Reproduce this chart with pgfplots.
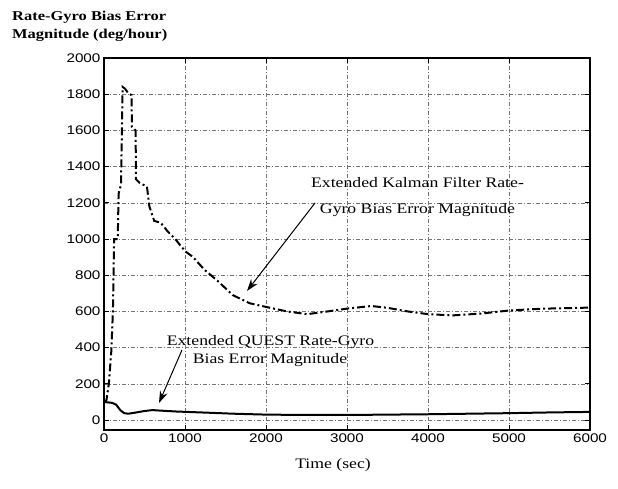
\documentclass[border=0pt]{standalone}
\usepackage{fontspec}
\setmainfont{Liberation Serif}[FakeStretch=1.22]
\newfontfamily\tickfont{Liberation Sans}[FakeStretch=1.22]
\usepackage{pgfplots}
\pgfplotsset{compat=1.18}
\usetikzlibrary{arrows.meta}

\pgfplotstableread{
t v
0 100
30 110
60 200
90 380
110 600
125 1000
170 1000
180 1250
210 1300
230 1840
260 1830
300 1805
340 1795
345 1620
390 1600
395 1330
440 1310
530 1290
560 1180
620 1100
700 1090
790 1040
880 1000
950 960
1010 930
1100 900
1240 830
1400 770
1590 690
1800 645
2030 622
2260 600
2510 585
2760 600
3010 616
3300 630
3500 620
3750 600
4000 585
4300 578
4650 588
5000 605
5400 615
5900 620
6000 622
}\ekf

\pgfplotstableread{
t v
0 100
100 95
150 85
200 55
250 38
300 35
400 42
500 50
600 55
700 52
900 47
1200 42
1600 35
2000 30
2500 28
3000 28
3500 30
4000 32
4500 35
5000 38
5500 42
6000 45
}\quest

\begin{document}
\begin{tikzpicture}[x=1pt,y=1pt]
\path[use as bounding box] (0pt,0pt) rectangle (618pt,488pt);
\begin{axis}[
  at={(104pt,58pt)}, anchor=south west,
  scale only axis, width=486pt, height=372pt,
  xmin=0, xmax=6000, ymin=-55, ymax=2000,
  xtick={0,1000,...,6000}, ytick={0,200,...,2000},
  /pgf/number format/assume math mode=true,
  /pgf/number format/set thousands separator={},
  ticklabel style={font=\tickfont\fontsize{12.5}{14}\selectfont, black},
  tick align=inside, major tick length=5pt,
  tick style={black, line width=0.8pt},
  xtick pos=both, ytick pos=both,
  xmajorgrids, ymajorgrids,
  major grid style={black!55, line width=0.6pt, dash pattern=on 4pt off 2pt on 1pt off 2pt},
  axis line style={black, line width=1.4pt},
  clip=false,
]
\addplot[black, line width=2pt, dash pattern=on 8pt off 3pt on 2pt off 3pt] table[x=t,y=v] {\ekf};
\addplot[black, line width=2pt] table[x=t,y=v] {\quest};
\end{axis}
% title (y label)
\node[anchor=base west, inner sep=0pt, font=\fontsize{13.5}{16}\selectfont\bfseries] at (12pt,467pt) {Rate-Gyro Bias Error};
\node[anchor=base west, inner sep=0pt, font=\fontsize{13.5}{16}\selectfont\bfseries] at (12pt,449pt) {Magnitude (deg/hour)};
% x label
\node[anchor=base, inner sep=0pt, font=\fontsize{14.5}{17}\selectfont] at (333pt,20pt) {Time (sec)};
% EKF annotation
\node[anchor=base, inner sep=0pt, font=\fontsize{14.5}{17}\selectfont] at (417.5pt,300pt) {Extended Kalman Filter Rate-};
\node[anchor=base, inner sep=0pt, font=\fontsize{14.5}{17}\selectfont] at (417.5pt,275pt) {Gyro Bias Error Magnitude};
\draw[line width=1pt, -{Stealth[length=12pt,width=8pt]}] (315pt,285pt) -- (247pt,197pt);
% QUEST annotation
\node[anchor=base, inner sep=0pt, font=\fontsize{14.5}{17}\selectfont] at (270.5pt,143pt) {Extended QUEST Rate-Gyro};
\node[anchor=base, inner sep=0pt, font=\fontsize{14.5}{17}\selectfont] at (270pt,125pt) {Bias Error Magnitude};
\draw[line width=1pt, -{Stealth[length=12pt,width=8pt]}] (182pt,138pt) -- (159pt,85pt);
\end{tikzpicture}
\end{document}
